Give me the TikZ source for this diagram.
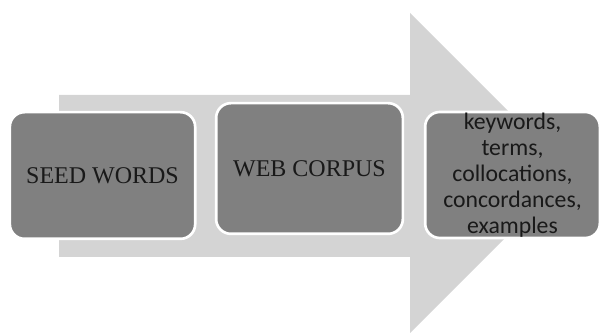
\documentclass[tikz,border=0pt]{standalone}
\usepackage{fontspec}
\setmainfont{Liberation Serif}
\newfontfamily\carlito{Carlito}
\usepackage{tikz}
\usetikzlibrary{positioning}
\definecolor{shaftgray}{RGB}{212,212,212}
\definecolor{boxgray}{RGB}{128,128,128}
\tikzset{
	stage/.style={draw=white, line width=2pt, fill=boxgray, rounded corners=11pt, inner sep=0pt, text=black!90},
	serifstage/.style={stage, font=\fontsize{18}{21}\selectfont},
	liststage/.style={stage, align=center, font=\carlito\fontsize{17.8}{19.6}\selectfont}
}

\begin{document}
\begin{tikzpicture}[x=0.75pt, y=-0.75pt]
		\useasboundingbox (0,0) rectangle (603,334);
		
		\fill[shaftgray] (59,95) -- (410,95) -- (410,13) -- (570,173) -- (410,333) -- (410,257) -- (59,257) -- cycle;
		
		\node[serifstage, minimum width=139pt, minimum height=95pt] (seed) at (102.5,175.5) {SEED WORDS};
		\node[serifstage, minimum width=140pt, minimum height=98pt] (corpus) at (309.5,168.5) {WEB CORPUS};
		\node[liststage, minimum width=131pt, minimum height=94.5pt] (output) at (512.5,175) {keywords,\\terms,\\collocations,\\concordances,\\examples};
	\end{tikzpicture}
\end{document}
